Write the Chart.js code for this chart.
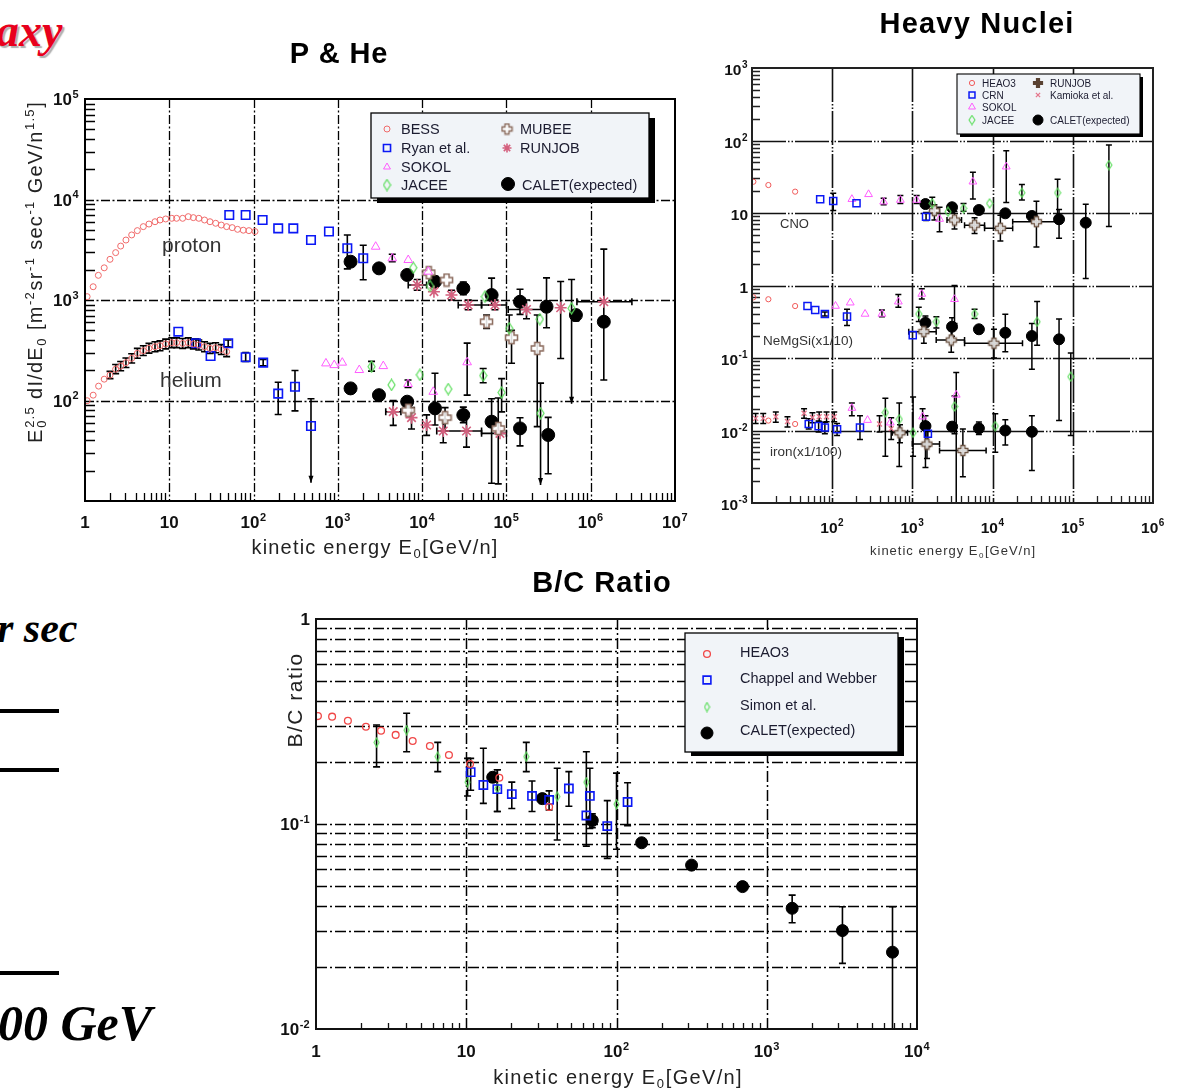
<!DOCTYPE html>
<html>
<head>
<meta charset="utf-8">
<script src="https://cdn.jsdelivr.net/npm/chart.js@4.4.1/dist/chart.umd.min.js"></script>
<style>
  html, body { margin:0; padding:0; background:#fff; width:1178px; height:1090px; overflow:hidden; position:relative; }
  canvas { position:absolute; }
  #c1 { left:0; top:0; }
  #c2 { left:722px; top:0; }
  #c3 { left:260px; top:560px; }
  .slide { position:absolute; font-family:"Liberation Serif","Times New Roman",serif; font-weight:bold; font-style:italic; white-space:nowrap; line-height:1; color:#000; }
  .rule { position:absolute; left:0; width:59px; height:4px; background:#000; }
</style>
</head>
<body>
<div class="slide" style="left:-4px; top:8px; font-size:46px; color:#e8001c; text-shadow:2px 2px 1px rgba(110,110,110,0.55);">axy</div>
<div class="slide" style="left:-3px; top:607px; font-size:42px;">r sec</div>
<div class="rule" style="top:709px;"></div>
<div class="rule" style="top:768px;"></div>
<div class="rule" style="top:971px;"></div>
<div class="slide" style="left:-2px; top:998px; font-size:50px;">00 GeV</div>

<canvas id="c1" width="712" height="572"></canvas>
<canvas id="c2" width="456" height="572"></canvas>
<canvas id="c3" width="680" height="530"></canvas>

<script>
// ---------------- P & He spectra (E0^2.5 dI/dE0) ----------------
const phXTicks = [1, 10, 100, 1e3, 1e4, 1e5, 1e6, 1e7];
const phXLabels = ['1', '10', '10^2', '10^3', '10^4', '10^5', '10^6', '10^7'];
const phYTicks = [100, 1e3, 1e4, 1e5];
const phYLabels = ['10^2', '10^3', '10^4', '10^5'];

const phBessPE = [1.06,1.25,1.44,1.69,1.98,2.31,2.65,3.06,3.58,4.18,4.92,5.74,6.77,7.76,9.06,10.7,12.2,14.4,16.8,19.3,22.4,26.2,30.4,35.5,41.4,47.9,55.8,64.6,75.5,88,104];
const phBessPF = [1080,1355,1760,2090,2540,2960,3440,3950,4440,4900,5370,5700,6010,6250,6400,6500,6500,6500,6750,6600,6500,6250,6010,5800,5570,5370,5250,5050,4950,4900,4800];
const phBessHeE = [1.06,1.25,1.45,1.69,1.98,2.31,2.65,3.06,3.58,4.18,4.92,5.74,6.77,7.76,9.06,10.7,12.2,14.4,16.8,19.3,22.4,26.2,30.4,35.5,41.4,47.9];
const phBessHeF = [99.5,113,139,163,179,205,220,238,263,295,313,331,343,351,365,376,376,370,376,365,357,343,330,335,322,306];
const phBessHeErr = [null,null,null,null,[165,195],[185,228],[198,244],[213,265],[236,292],[263,330],[280,350],[296,370],[306,384],[313,392],[326,408],[336,420],[336,420],[330,414],[336,420],[326,408],[318,400],[306,384],[294,370],[299,375],[287,360],[273,342]];

const phRyanPE = [51.5,80.6,128,196,296,480,784,1295,2000];
const phRyanPF = [7010,7010,6250,5160,5160,3950,4800,3270,2600];
const phRyanPErr = [null,null,null,null,null,null,null,[2040,4440],[1590,3500]];
const phRyanHeE = [12.8,20.7,30.9,50,80.6,130,196,310,480];
const phRyanHeF = [484,371,277,371,269,238,117,137,55.7];
const phRyanHeErr = [null,[335,410],null,[340,400],[245,300],[222,256],[72.5,152],[78.8,199],[15.2,104,null,null,1]];

const phSokolPE = [2810,4420,6840,11800];
const phSokolPF = [3390,2600,2500,1915];
const phSokolPErr = [null,[2400,2850],null,null];
const phSokolHeE = [722,906,1128,1796,3460,6800,13550,34200];
const phSokolHeF = [234,225,238,201,220,146,122,240];
const phSokolHeErr = [null,null,null,null,null,[135,160],null,[113,372]];

const phJaceePE = [7850,12400,55600,108000,249000,593000];
const phJaceePF = [2095,1380,1080,523,645,826];
const phJaceePErr = [null,null,null,[490,708],null,[93,1600,null,null,1]];
const phJaceeHeE = [2510,4330,9400,20400,53000,87700,254000];
const phJaceeHeF = [217,143,180,130,177,120,74.6];
const phJaceeHeErr = [[196,245],null,null,null,[150,208],[77,165],[14.4,149,null,null,1]];

const phMubeePE = [12000,19500,58100,115000,232000];
const phMubeePF = [1870,1580,608,422,330];
const phMubeePErr = [null,null,[520,710],[235,500],[55,710]];
const phMubeeHeE = [6840,18700,80000];
const phMubeeHeF = [80,67.5,52.8];
const phMubeeHeErr = [null,[50,85],[14.8,106]];

const phRunjobPE = [8750,13800,22300,35200,73100,173000,440000,1430000];
const phRunjobPF = [1410,1210,1120,891,891,805,837,961];
const phRunjobPErr = [[1250,1600,6840,11300],null,[1000,1250],[800,1000,26800,50700],[800,1000,50700,100000],[650,1000,105000,299000],[262,1530],[null,null,686000,3080000]];
const phRunjobHeE = [4540,7480,11300,17800,33600,83800];
const phRunjobHeF = [77.4,67.5,57,49.7,49.7,47.1];
const phRunjobHeErr = [[56.5,100,3700,5600],[52,85],[45,72],[38,65],[34.4,74,14900,50700],[null,null,50700,100000]];

const phCaletPE = [1415,3075,6650,14200,30800,66700,145000,299000,667000,1430000];
const phCaletPF = [2405,2065,1775,1520,1305,1120,961,857,708,608];
const phCaletPErr = [[2200,2630],[1900,2250],[1620,1950],[1350,1720],[1130,1510],[890,1650],[720,1280],[530,1660],[620,790],[160,3210]];
const phCaletHeE = [1415,3075,6650,14200,30800,66700,145000,313000];
const phCaletHeF = [132,113,97.3,83.5,71.7,61.5,52.8,45.4];
const phCaletHeErr = [null,null,[90,105],[57,187],[60,86],[15,104],[35.4,67.4],[18.7,68]];

// ---------------- Heavy nuclei (CNO, NeMgSi x1/10, iron x1/100) ----------------
const hnXTicks = [100, 1e3, 1e4, 1e5, 1e6];
const hnXLabels = ['10^2', '10^3', '10^4', '10^5', '10^6'];
const hnYTicks = [1e-3, 1e-2, 0.1, 1, 10, 100, 1000];
const hnYLabels = ['10^-3', '10^-2', '10^-1', '1', '10', '10^2', '10^3'];

const hnHeao3CnoE = [10.4,16,34.5],  hnHeao3CnoF = [27,24.3,19.7];
const hnHeao3NeE  = [10.4,16,34.5],  hnHeao3NeF  = [0.687,0.646,0.521];
const hnHeao3FeE  = [16,34.5],       hnHeao3FeF  = [0.0137,0.0123];

const hnKamiokaFeE = [11.1,13.8,19.8,27.7,44.6,56.7,68.8,85,106,389,544];
const hnKamiokaFeF = [0.0147,0.0147,0.0155,0.0133,0.0173,0.0151,0.0155,0.0155,0.0155,0.0123,0.0106];
const hnKamiokaFeErr = [[0.0125,0.0172],[0.0125,0.0172],[0.013,0.018],[0.0112,0.0155],[0.0148,0.02],[0.0128,0.0176],[0.0132,0.018],[0.0132,0.018],[0.0132,0.018],[0.0095,0.016],[0.0075,0.015]];

const hnCrnCnoE = [70.8,103,201,1480], hnCrnCnoF = [15.5,14.6,13.6,8.9];
const hnCrnCnoErr = [null,[10.8,18.7],null,[7.9,10.2]];
const hnCrnNeE = [49.2,61.4,81,153,1010], hnCrnNeF = [0.521,0.459,0.405,0.372,0.207];
const hnCrnNeErr = [null,null,[0.38,0.43],[0.28,0.47],null];
const hnCrnFeE = [51,67.7,81,115,222,1560], hnCrnFeF = [0.0123,0.0115,0.011,0.0104,0.011,0.009];
const hnCrnFeErr = [[0.0105,0.0145],[0.0095,0.0135],[0.009,0.013],[0.0085,0.0125],[0.0075,0.016],[0.006,0.012]];

const hnSokolCnoE = [176,284,438,708,1130,2180,5680,14800], hnSokolCnoF = [15.5,18.1,14.3,15.1,15.1,8.26,27,43.5];
const hnSokolCnoErr = [null,null,[13,16],[13.5,17.5],[13.5,17.5],[5.5,12],[15.6,36.6],[14,72.5]];
const hnSokolNeE = [110,168,257,417,668,1310,3350], hnSokolNeF = [0.521,0.579,0.405,0.405,0.598,0.764,0.646];
const hnSokolNeErr = [null,null,null,[0.37,0.46],[0.5,0.75],[0.65,0.9],[0.3,1.0]];
const hnSokolFeE = [176,276,530,1340,3520], hnSokolFeF = [0.0204,0.0139,0.0128,0.0155,0.031];
const hnSokolFeErr = [[0.016,0.024],null,null,[0.011,0.02],[0.001,0.063]];

const hnJaceeCnoE = [1770,2780,4340,9170,23200,64600,282000], hnJaceeCnoF = [13.6,10.4,11.6,13.6,19,19,45.9];
const hnJaceeCnoErr = [[11,16.5],null,[10.6,13.5],null,[15.1,24.8],[8.2,29.3],[6.5,86.6]];
const hnJaceeNeE = [1200,1990,5960,35900,94400], hnJaceeNeF = [0.405,0.316,0.405,0.316,0.0552];
const hnJaceeNeErr = [[0.32,0.5],[0.26,0.37],[0.35,0.47],[0.15,0.6],[0.0085,0.117]];
const hnJaceeFeE = [460,686,1020,3350,10800], hnJaceeFeF = [0.0177,0.0143,0.0093,0.0214,0.0115];
const hnJaceeFeErr = [[0.0044,0.0278],[0.0032,0.024],[0.0044,0.029],[0.009,0.03],[0.005,0.017]];

const hnRunjobCnoE = [1880,3350,5960,12500,35200], hnRunjobCnoF = [10.8,8,6.8,6.15,7.6];
const hnRunjobCnoErr = [[8,13],[6,10.5,2700,4100],[5.2,8.6,4470,7940],[4.1,9.3,7940,17800],[3.4,14.5,17800,64900]];
const hnRunjobNeE = [1390,3050,10400], hnRunjobNeF = [0.231,0.177,0.16];
const hnRunjobNeErr = [[0.16,0.33,900,1980],[0.12,0.24,1980,4470],[0.1,0.25,4470,23600]];
const hnRunjobFeE = [700,1520,4260], hnRunjobFeF = [0.0093,0.0065,0.0053];
const hnRunjobFeErr = [[0.0068,0.012,560,870],[0.0041,0.01,1000,2180],[0.0023,0.0105,2180,8300]];

const hnCaletCnoE = [1455,3120,6750,14400,30900,67400,145000], hnCaletCnoF = [13.3,12,11,9.9,9.1,8.2,7.35];
const hnCaletCnoErr = [null,null,null,null,[8.3,10.2],[4.5,11.2],[1.25,13.2]];
const hnCaletNeE = [1455,3120,6750,14400,30900,67400], hnCaletNeF = [0.307,0.27,0.249,0.223,0.201,0.181];
const hnCaletNeErr = [[0.22,0.38],[0.2,0.36],null,[0.122,0.4],[0.07,0.3],[0.0137,0.345]];
const hnCaletFeE = [1455,3130,6750,14400,30900], hnCaletFeF = [0.0115,0.0113,0.0107,0.01,0.0096];
const hnCaletFeErr = [[0.0031,0.016],[0.0098,0.013],[0.0088,0.0131],[0.0063,0.0141],[0.0028,0.016]];

// ---------------- B/C ratio ----------------
const bcXTicks = [1, 10, 100, 1e3, 1e4];
const bcXLabels = ['1', '10', '10^2', '10^3', '10^4'];
const bcYTicks = [0.01, 0.1, 1];
const bcYLabels = ['10^-2', '10^-1', '1'];

const bcHeao3E = [1.03,1.28,1.63,2.15,2.71,3.39,4.4,5.73,7.67,10.6,16.6,35.6];
const bcHeao3R = [0.336,0.334,0.319,0.298,0.285,0.272,0.254,0.24,0.217,0.196,0.168,0.121];
const bcChappelE = [10.7,13,16.1,20.1,27.4,35.6,48.2,63,66.5,86.8,118.5];
const bcChappelR = [0.179,0.155,0.148,0.14,0.137,0.131,0.149,0.11,0.137,0.0977,0.128];
const bcChappelErr = [[0.146,0.209],[0.126,0.234],[0.115,0.184],[0.119,0.16],[0.115,0.162],[0.117,0.145],[0.122,0.18],null,[0.095,0.187],[0.068,0.13],[0.098,0.159]];
const bcSimonE = [2.53,4.01,6.46,10.2,16.1,25.1,40.3,63,100];
const bcSimonR = [0.25,0.287,0.213,0.16,0.149,0.213,0.136,0.16,0.125];
const bcSimonErr = [[0.19,0.304],[0.225,0.347],[0.18,0.25],[0.137,0.209],[0.115,0.184],[0.18,0.25],[0.0835,0.187],[0.078,0.225],[0.0753,0.177]];
const bcCaletE = [15,32.1,69,147,316,690,1476,3190,6870];
const bcCaletR = [0.169,0.133,0.104,0.081,0.063,0.0495,0.0388,0.0302,0.0237];
const bcCaletErr = [[0.16,0.178],[0.126,0.14],[0.096,0.112],null,null,null,[0.033,0.045],[0.0209,0.0395],[0.01,0.0395]];

// ---------------- helpers ----------------
const FONT = '"Liberation Sans", Arial, Helvetica, sans-serif';

function pts(E, F) { return E.map((e, i) => ({ x: e, y: F[i] })); }

// minor tick values 2..9 x 10^k for k in [k0, k1)
function minors(k0, k1) {
  const out = [];
  for (let k = k0; k < k1; k++) for (let m = 2; m <= 9; m++) out.push(m * Math.pow(10, k));
  return out;
}

function parseTick(s) {
  const i = s.indexOf('^');
  return i < 0 ? [s] : [s.slice(0, i), { sup: s.slice(i + 1) }];
}

function richWidth(ctx, segs, size, weight) {
  let w = 0;
  for (const s of segs) {
    if (typeof s === 'string') { ctx.font = `${weight} ${size}px ${FONT}`; w += ctx.measureText(s).width; }
    else {
      ctx.font = `${weight} ${Math.round(size * 0.64)}px ${FONT}`;
      const a = s.sup ? ctx.measureText(s.sup).width : 0, b = s.sub ? ctx.measureText(s.sub).width : 0;
      w += Math.max(a, b) + 1;
    }
  }
  return w;
}

function richDraw(ctx, segs, x, y, size, o) {
  const weight = o.weight || 'normal';
  if ('letterSpacing' in ctx) ctx.letterSpacing = (o.ls || 0) + 'px';
  const w = richWidth(ctx, segs, size, weight);
  let cx = o.align === 'center' ? x - w / 2 : o.align === 'right' ? x - w : x;
  ctx.fillStyle = o.color || '#000';
  ctx.textAlign = 'left';
  ctx.textBaseline = 'alphabetic';
  for (const s of segs) {
    if (typeof s === 'string') {
      ctx.font = `${weight} ${size}px ${FONT}`;
      ctx.fillText(s, cx, y);
      cx += ctx.measureText(s).width;
    } else {
      ctx.font = `${weight} ${Math.round(size * 0.64)}px ${FONT}`;
      let a = 0, b = 0;
      if (s.sup) { ctx.fillText(s.sup, cx + 0.5, y - size * 0.42); a = ctx.measureText(s.sup).width; }
      if (s.sub) { ctx.fillText(s.sub, cx + 0.5, y + size * 0.22); b = ctx.measureText(s.sub).width; }
      cx += Math.max(a, b) + 1;
    }
  }
  if ('letterSpacing' in ctx) ctx.letterSpacing = '0px';
}

// narrow hollow diamond marker
function diamond(color, w, h, lw) {
  const c = document.createElement('canvas');
  c.width = w + 2; c.height = h + 2;
  const g = c.getContext('2d');
  g.strokeStyle = color; g.lineWidth = lw;
  g.beginPath();
  g.moveTo(c.width / 2, 1); g.lineTo(c.width - 1, c.height / 2);
  g.lineTo(c.width / 2, c.height - 1); g.lineTo(1, c.height / 2);
  g.closePath(); g.stroke();
  return c;
}

// outlined plus marker
function openCross(color, s, a, lw, fill) {
  const c = document.createElement('canvas');
  c.width = c.height = s + 3;
  const g = c.getContext('2d');
  const m = c.width / 2, h = s / 2;
  g.strokeStyle = color; g.lineWidth = lw; g.fillStyle = fill;
  g.beginPath();
  g.moveTo(m - a, m - h); g.lineTo(m + a, m - h); g.lineTo(m + a, m - a); g.lineTo(m + h, m - a);
  g.lineTo(m + h, m + a); g.lineTo(m + a, m + a); g.lineTo(m + a, m + h); g.lineTo(m - a, m + h);
  g.lineTo(m - a, m + a); g.lineTo(m - h, m + a); g.lineTo(m - h, m - a); g.lineTo(m - a, m - a);
  g.closePath(); g.fill(); g.stroke();
  return c;
}

function fallbackPoint(ctx, o, x, y) {
  const st = o.pointStyle, r = o.radius;
  if (st instanceof HTMLCanvasElement) { ctx.drawImage(st, x - st.width / 2, y - st.height / 2); return; }
  ctx.beginPath();
  if (st === 'rect') { const s = r * Math.SQRT1_2; ctx.rect(x - s, y - s, 2 * s, 2 * s); }
  else if (st === 'triangle') { ctx.moveTo(x, y - r); ctx.lineTo(x + r * 0.866, y + r / 2); ctx.lineTo(x - r * 0.866, y + r / 2); ctx.closePath(); }
  else if (st === 'star' || st === 'crossRot') {
    const d = r * Math.SQRT1_2;
    ctx.moveTo(x - d, y - d); ctx.lineTo(x + d, y + d); ctx.moveTo(x - d, y + d); ctx.lineTo(x + d, y - d);
    if (st === 'star') { ctx.moveTo(x - r, y); ctx.lineTo(x + r, y); ctx.moveTo(x, y - r); ctx.lineTo(x, y + r); }
  }
  else { ctx.arc(x, y, r, 0, Math.PI * 2); }
  if (st !== 'star' && st !== 'crossRot') ctx.fill();
  ctx.stroke();
}

function marker(ctx, o, x, y) {
  if (window.Chart && Chart.helpers && Chart.helpers.drawPoint) Chart.helpers.drawPoint(ctx, o, x, y);
  else fallbackPoint(ctx, o, x, y);
}

function drawErrBars(chart) {
  const { ctx, chartArea: a, scales: { x, y } } = chart;
  ctx.save();
  ctx.beginPath(); ctx.rect(a.left, a.top - 4, a.right - a.left, a.bottom - a.top + 4); ctx.clip();
  ctx.strokeStyle = '#000'; ctx.fillStyle = '#000'; ctx.setLineDash([]);
  chart.data.datasets.forEach(ds => {
    if (!ds.errs) return;
    const cap = ds.errCap || 3.5;
    ctx.lineWidth = ds.errWidth || 1.6;
    ds.errs.forEach((e, i) => {
      if (!e) return;
      const p = ds.data[i];
      const px = x.getPixelForValue(p.x), py = y.getPixelForValue(p.y);
      const [yl, yh, xl, xh, arrow] = e;
      ctx.beginPath();
      if (yl != null) {
        const lo = y.getPixelForValue(yl), hi = y.getPixelForValue(yh);
        ctx.moveTo(px, lo); ctx.lineTo(px, hi);
        ctx.moveTo(px - cap, hi); ctx.lineTo(px + cap, hi);
        if (!arrow) { ctx.moveTo(px - cap, lo); ctx.lineTo(px + cap, lo); }
      }
      if (xl != null) {
        const l = x.getPixelForValue(xl), r = x.getPixelForValue(xh);
        ctx.moveTo(l, py); ctx.lineTo(r, py);
        ctx.moveTo(l, py - cap); ctx.lineTo(l, py + cap);
        ctx.moveTo(r, py - cap); ctx.lineTo(r, py + cap);
      }
      ctx.stroke();
      if (arrow && yl != null) {
        const lo = y.getPixelForValue(yl);
        ctx.beginPath(); ctx.moveTo(px, lo); ctx.lineTo(px - 2.5, lo - 7); ctx.lineTo(px + 2.5, lo - 7); ctx.closePath(); ctx.fill();
      }
    });
  });
  ctx.restore();
}

function drawLegend(chart, L) {
  const ctx = chart.ctx;
  const [x0, y0, x1, y1] = L.box;
  ctx.save();
  ctx.fillStyle = '#000';
  ctx.fillRect(x0 + L.shadow[0], y0 + L.shadow[1], x1 - x0, y1 - y0);
  ctx.fillStyle = L.fill;
  ctx.fillRect(x0, y0, x1 - x0, y1 - y0);
  ctx.lineWidth = L.lw; ctx.strokeStyle = '#000';
  ctx.strokeRect(x0, y0, x1 - x0, y1 - y0);
  L.items.forEach(it => {
    const ds = chart.data.datasets[it.ds];
    ctx.save();
    ctx.strokeStyle = ds.pointBorderColor; ctx.fillStyle = ds.pointBackgroundColor; ctx.lineWidth = ds.pointBorderWidth;
    marker(ctx, { pointStyle: it.style || ds.pointStyle, radius: it.r || ds.pointRadius, borderWidth: ds.pointBorderWidth, rotation: 0 }, it.mx, it.my);
    ctx.restore();
    ctx.font = `${L.size}px ${FONT}`; ctx.fillStyle = '#1c1c30'; ctx.textAlign = 'left'; ctx.textBaseline = 'alphabetic';
    ctx.fillText(ds.label, it.tx, it.ty);
  });
  ctx.restore();
}

// frame, grid, inner minor ticks, tick labels, captions and the boxed legend
function deco(cfg) {
  return {
    id: 'deco',
    beforeDatasetsDraw(chart) {
      const { ctx, chartArea: a, scales: { x, y } } = chart;
      ctx.save();
      ctx.strokeStyle = cfg.gridColor; ctx.lineWidth = cfg.gridWidth; ctx.setLineDash(cfg.dash);
      cfg.gridX.forEach(v => { const p = Math.round(x.getPixelForValue(v)) + 0.5; ctx.beginPath(); ctx.moveTo(p, a.top); ctx.lineTo(p, a.bottom); ctx.stroke(); });
      cfg.gridY.forEach(v => { const p = Math.round(y.getPixelForValue(v)) + 0.5; ctx.beginPath(); ctx.moveTo(a.left, p); ctx.lineTo(a.right, p); ctx.stroke(); });
      ctx.setLineDash([]); ctx.lineWidth = 1.3; ctx.strokeStyle = cfg.frameColor;
      ctx.beginPath();
      cfg.minorX.forEach(v => { const p = Math.round(x.getPixelForValue(v)) + 0.5; if (p > a.left + 1 && p < a.right - 1) { ctx.moveTo(p, a.bottom); ctx.lineTo(p, a.bottom - cfg.tickLenX); } });
      cfg.minorY.forEach(v => { const p = Math.round(y.getPixelForValue(v)) + 0.5; if (p > a.top + 1 && p < a.bottom - 1) { ctx.moveTo(a.left, p); ctx.lineTo(a.left + cfg.tickLenY, p); } });
      ctx.stroke();
      ctx.restore();
      drawErrBars(chart);
    },
    afterDatasetsDraw(chart) {
      const { ctx, chartArea: a, scales: { x, y } } = chart;
      ctx.save();
      ctx.lineWidth = cfg.frameWidth; ctx.strokeStyle = cfg.frameColor;
      ctx.strokeRect(a.left, a.top, a.right - a.left, a.bottom - a.top);
      cfg.xTicks.forEach((v, i) => richDraw(ctx, parseTick(cfg.xLabels[i]), x.getPixelForValue(v), cfg.xLabelY, cfg.tickSize, { weight: 'bold', align: 'center', color: '#111' }));
      cfg.yTicks.forEach((v, i) => richDraw(ctx, parseTick(cfg.yLabels[i]), cfg.yLabelX, y.getPixelForValue(v) + cfg.yLabelDy, cfg.tickSize, { weight: 'bold', align: 'right', color: '#111' }));
      cfg.texts.forEach(t => {
        ctx.save(); ctx.translate(t.x, t.y); if (t.rot) ctx.rotate(t.rot);
        richDraw(ctx, t.segs, 0, 0, t.size, { weight: t.weight, align: t.align, color: t.color, ls: t.ls });
        ctx.restore();
      });
      if (cfg.legend) drawLegend(chart, cfg.legend);
      ctx.restore();
    }
  };
}

function series(label, data, errs, style) {
  return Object.assign({ label, data, errs, showLine: false, borderColor: style.pointBorderColor, backgroundColor: style.pointBackgroundColor }, style);
}

function logScales(xmin, xmax, ymin, ymax) {
  return {
    x: { type: 'logarithmic', min: xmin, max: xmax, display: false },
    y: { type: 'logarithmic', min: ymin, max: ymax, display: false }
  };
}

function baseOptions(pad, scales) {
  return {
    responsive: false, animation: false, devicePixelRatio: 1, events: [],
    layout: { padding: pad },
    plugins: { legend: { display: false }, tooltip: { enabled: false } },
    scales
  };
}

const HOLLOW = 'rgba(255,255,255,0)';

// ---------------- chart 1 : P & He ----------------
const c1Styles = {
  bess:   { pointStyle: 'circle', pointRadius: 3, pointBorderWidth: 1, pointBorderColor: '#f06a6a', pointBackgroundColor: HOLLOW },
  ryan:   { pointStyle: 'rect', pointRadius: 6, pointBorderWidth: 1.6, pointBorderColor: '#0b18f5', pointBackgroundColor: HOLLOW },
  sokol:  { pointStyle: 'triangle', pointRadius: 5, pointBorderWidth: 1, pointBorderColor: '#ff5cff', pointBackgroundColor: HOLLOW },
  jacee:  { pointStyle: diamond('#5cde5c', 7, 11, 1.2), pointRadius: 5, pointBorderWidth: 1, pointBorderColor: '#5cde5c', pointBackgroundColor: HOLLOW },
  mubee:  { pointStyle: openCross('#8a6a5c', 12, 2.5, 1.5, 'rgba(255,255,255,0.85)'), pointRadius: 6, pointBorderWidth: 1.5, pointBorderColor: '#8a6a5c', pointBackgroundColor: HOLLOW },
  runjob: { pointStyle: 'star', pointRadius: 6, pointBorderWidth: 1.6, pointBorderColor: '#d4607e', pointBackgroundColor: HOLLOW },
  calet:  { pointStyle: 'circle', pointRadius: 6.5, pointBorderWidth: 1, pointBorderColor: '#000', pointBackgroundColor: '#000' }
};
const mubeeLegendMark = openCross('#8a6a5c', 10, 2, 1.4, 'rgba(255,255,255,0.85)');

new Chart(document.getElementById('c1'), {
  type: 'scatter',
  data: {
    datasets: [
      series('BESS', [...pts(phBessPE, phBessPF), ...pts(phBessHeE, phBessHeF)], [...phBessPE.map(() => null), ...phBessHeErr], c1Styles.bess),
      series('Ryan et al.', [...pts(phRyanPE, phRyanPF), ...pts(phRyanHeE, phRyanHeF)], [...phRyanPErr, ...phRyanHeErr], c1Styles.ryan),
      series('SOKOL', [...pts(phSokolPE, phSokolPF), ...pts(phSokolHeE, phSokolHeF)], [...phSokolPErr, ...phSokolHeErr], c1Styles.sokol),
      series('JACEE', [...pts(phJaceePE, phJaceePF), ...pts(phJaceeHeE, phJaceeHeF)], [...phJaceePErr, ...phJaceeHeErr], c1Styles.jacee),
      series('MUBEE', [...pts(phMubeePE, phMubeePF), ...pts(phMubeeHeE, phMubeeHeF)], [...phMubeePErr, ...phMubeeHeErr], c1Styles.mubee),
      series('RUNJOB', [...pts(phRunjobPE, phRunjobPF), ...pts(phRunjobHeE, phRunjobHeF)], [...phRunjobPErr, ...phRunjobHeErr], c1Styles.runjob),
      series('CALET(expected)', [...pts(phCaletPE, phCaletPF), ...pts(phCaletHeE, phCaletHeF)], [...phCaletPErr, ...phCaletHeErr], c1Styles.calet)
    ]
  },
  options: baseOptions({ left: 85, top: 99, right: 37, bottom: 71 }, logScales(1, 1e7, 10, 1e5)),
  plugins: [deco({
    gridColor: '#000', gridWidth: 1.3, dash: [9, 2.5, 2, 2.5],
    gridX: [10, 100, 1e3, 1e4, 1e5, 1e6], gridY: [100, 1e3, 1e4],
    minorX: minors(0, 7), minorY: minors(1, 5), tickLenX: 8, tickLenY: 10,
    frameColor: '#000', frameWidth: 2,
    xTicks: phXTicks, xLabels: phXLabels, xLabelY: 528,
    yTicks: phYTicks, yLabels: phYLabels, yLabelX: 79, yLabelDy: 6, tickSize: 17,
    texts: [
      { segs: ['P & He'], x: 339, y: 63, size: 29, weight: 'bold', align: 'center', color: '#000', ls: 0.8 },
      { segs: ['kinetic energy E', { sub: '0' }, '[GeV/n]'], x: 375, y: 554, size: 20, align: 'center', color: '#222', ls: 1.2 },
      { segs: ['E', { sub: '0', sup: '2.5' }, ' dI/dE', { sub: '0' }, ' [m', { sup: '-2' }, 'sr', { sup: '-1' }, ' sec', { sup: '-1' }, ' GeV/n', { sup: '1.5' }, ']'], x: 42, y: 272, rot: -Math.PI / 2, size: 20, align: 'center', color: '#222', ls: 1.2 },
      { segs: ['proton'], x: 162, y: 252, size: 21, align: 'left', color: '#333' },
      { segs: ['helium'], x: 160, y: 387, size: 21, align: 'left', color: '#333' }
    ],
    legend: {
      box: [371, 113, 649, 198], shadow: [6, 5], fill: '#f1f4f8', lw: 1.3, size: 14.5,
      items: [
        { ds: 0, mx: 387, my: 129, tx: 401, ty: 134 },
        { ds: 1, mx: 387, my: 148, tx: 401, ty: 153, r: 5 },
        { ds: 2, mx: 387, my: 167, tx: 401, ty: 172, r: 4 },
        { ds: 3, mx: 387, my: 185, tx: 401, ty: 190 },
        { ds: 4, mx: 507, my: 129, tx: 520, ty: 134, style: mubeeLegendMark },
        { ds: 5, mx: 507, my: 148, tx: 520, ty: 153, r: 4.5 },
        { ds: 6, mx: 508, my: 184, tx: 522, ty: 190 }
      ]
    }
  })]
});

// ---------------- chart 2 : heavy nuclei ----------------
const c2Styles = {
  heao3:   { pointStyle: 'circle', pointRadius: 2.6, pointBorderWidth: 1, pointBorderColor: '#f05a5a', pointBackgroundColor: HOLLOW },
  kamioka: { pointStyle: 'crossRot', pointRadius: 3.5, pointBorderWidth: 1.3, pointBorderColor: '#e5768c', pointBackgroundColor: HOLLOW },
  crn:     { pointStyle: 'rect', pointRadius: 5, pointBorderWidth: 1.5, pointBorderColor: '#0b18f5', pointBackgroundColor: HOLLOW },
  sokol:   { pointStyle: 'triangle', pointRadius: 4.5, pointBorderWidth: 1, pointBorderColor: '#ff5cff', pointBackgroundColor: HOLLOW },
  jacee:   { pointStyle: diamond('#5cde5c', 6, 9, 1.1), pointRadius: 4, pointBorderWidth: 1, pointBorderColor: '#5cde5c', pointBackgroundColor: HOLLOW },
  runjob:  { pointStyle: openCross('#6e5646', 10, 2, 1.4, 'rgba(255,255,255,0.85)'), pointRadius: 5, pointBorderWidth: 1.4, pointBorderColor: '#6e5646', pointBackgroundColor: HOLLOW },
  calet:   { pointStyle: 'circle', pointRadius: 5.5, pointBorderWidth: 1, pointBorderColor: '#000', pointBackgroundColor: '#000' }
};
const runjobLegendMark = openCross('#5a4232', 9, 1.5, 1.2, '#5a4232');

new Chart(document.getElementById('c2'), {
  type: 'scatter',
  data: {
    datasets: [
      series('HEAO3', [...pts(hnHeao3CnoE, hnHeao3CnoF), ...pts(hnHeao3NeE, hnHeao3NeF), ...pts(hnHeao3FeE, hnHeao3FeF)], null, c2Styles.heao3),
      series('Kamioka et al.', pts(hnKamiokaFeE, hnKamiokaFeF), hnKamiokaFeErr, c2Styles.kamioka),
      series('CRN', [...pts(hnCrnCnoE, hnCrnCnoF), ...pts(hnCrnNeE, hnCrnNeF), ...pts(hnCrnFeE, hnCrnFeF)], [...hnCrnCnoErr, ...hnCrnNeErr, ...hnCrnFeErr], c2Styles.crn),
      series('SOKOL', [...pts(hnSokolCnoE, hnSokolCnoF), ...pts(hnSokolNeE, hnSokolNeF), ...pts(hnSokolFeE, hnSokolFeF)], [...hnSokolCnoErr, ...hnSokolNeErr, ...hnSokolFeErr], c2Styles.sokol),
      series('JACEE', [...pts(hnJaceeCnoE, hnJaceeCnoF), ...pts(hnJaceeNeE, hnJaceeNeF), ...pts(hnJaceeFeE, hnJaceeFeF)], [...hnJaceeCnoErr, ...hnJaceeNeErr, ...hnJaceeFeErr], c2Styles.jacee),
      series('RUNJOB', [...pts(hnRunjobCnoE, hnRunjobCnoF), ...pts(hnRunjobNeE, hnRunjobNeF), ...pts(hnRunjobFeE, hnRunjobFeF)], [...hnRunjobCnoErr, ...hnRunjobNeErr, ...hnRunjobFeErr], c2Styles.runjob),
      series('CALET(expected)', [...pts(hnCaletCnoE, hnCaletCnoF), ...pts(hnCaletNeE, hnCaletNeF), ...pts(hnCaletFeE, hnCaletFeF)], [...hnCaletCnoErr, ...hnCaletNeErr, ...hnCaletFeErr], c2Styles.calet)
    ].map(d => Object.assign(d, { errCap: 3, errWidth: 1.5 }))
  },
  options: baseOptions({ left: 30, top: 68, right: 25, bottom: 69 }, logScales(10, 1e6, 1e-3, 1e3)),
  plugins: [deco({
    gridColor: '#111', gridWidth: 1.6, dash: [34, 2, 1.5, 2, 1.5, 2],
    gridX: [100, 1e3, 1e4, 1e5], gridY: [1e-2, 0.1, 1, 10, 100],
    minorX: minors(1, 6), minorY: minors(-3, 3), tickLenX: 7, tickLenY: 8,
    frameColor: '#222', frameWidth: 2,
    xTicks: hnXTicks, xLabels: hnXLabels, xLabelY: 533,
    yTicks: hnYTicks, yLabels: hnYLabels, yLabelX: 26, yLabelDy: 7, tickSize: 15.5,
    texts: [
      { segs: ['Heavy Nuclei'], x: 255, y: 33, size: 29, weight: 'bold', align: 'center', color: '#000', ls: 1.2 },
      { segs: ['kinetic energy E', { sub: '0' }, '[GeV/n]'], x: 231, y: 555, size: 13, align: 'center', color: '#333', ls: 1 },
      { segs: ['CNO'], x: 58, y: 228, size: 13, align: 'left', color: '#333' },
      { segs: ['NeMgSi(x1/10)'], x: 41, y: 345, size: 13.5, align: 'left', color: '#333' },
      { segs: ['iron(x1/100)'], x: 48, y: 456, size: 13.5, align: 'left', color: '#333' }
    ],
    legend: {
      box: [235, 74, 418, 134], shadow: [3, 3], fill: '#f1f4f8', lw: 1.1, size: 10,
      items: [
        { ds: 0, mx: 250, my: 83, tx: 260, ty: 87 },
        { ds: 2, mx: 250, my: 95, tx: 260, ty: 99, r: 4.2 },
        { ds: 3, mx: 250, my: 107, tx: 260, ty: 111, r: 4 },
        { ds: 4, mx: 250, my: 120, tx: 260, ty: 124 },
        { ds: 5, mx: 316, my: 83, tx: 328, ty: 87, style: runjobLegendMark },
        { ds: 1, mx: 316, my: 95, tx: 328, ty: 99, r: 3 },
        { ds: 6, mx: 316, my: 120, tx: 328, ty: 124, r: 5 }
      ]
    }
  })]
});

// ---------------- chart 3 : B/C ratio ----------------
const c3Styles = {
  heao3:   { pointStyle: 'circle', pointRadius: 3.4, pointBorderWidth: 1.3, pointBorderColor: '#f04848', pointBackgroundColor: HOLLOW },
  chappel: { pointStyle: 'rect', pointRadius: 5.8, pointBorderWidth: 1.6, pointBorderColor: '#0b18f5', pointBackgroundColor: HOLLOW },
  simon:   { pointStyle: diamond('#5cde5c', 5, 9, 1.1), pointRadius: 4, pointBorderWidth: 1, pointBorderColor: '#5cde5c', pointBackgroundColor: HOLLOW },
  calet:   { pointStyle: 'circle', pointRadius: 6, pointBorderWidth: 1, pointBorderColor: '#000', pointBackgroundColor: '#000' }
};

new Chart(document.getElementById('c3'), {
  type: 'scatter',
  data: {
    datasets: [
      series('HEAO3', pts(bcHeao3E, bcHeao3R), null, c3Styles.heao3),
      series('Chappel and Webber', pts(bcChappelE, bcChappelR), bcChappelErr, c3Styles.chappel),
      series('Simon et al.', pts(bcSimonE, bcSimonR), bcSimonErr, c3Styles.simon),
      series('CALET(expected)', pts(bcCaletE, bcCaletR), bcCaletErr, c3Styles.calet)
    ].map(d => Object.assign(d, { errCap: 3.5, errWidth: 1.6 }))
  },
  options: baseOptions({ left: 56, top: 59, right: 23, bottom: 61 }, logScales(1, 1e4, 0.01, 1)),
  plugins: [deco({
    gridColor: '#000', gridWidth: 1.5, dash: [11, 3, 2, 3],
    gridX: [10, 100, 1e3], gridY: [...minors(-2, 0), 0.1],
    minorX: minors(0, 4), minorY: [], tickLenX: 6, tickLenY: 5,
    frameColor: '#111', frameWidth: 2,
    xTicks: bcXTicks, xLabels: bcXLabels, xLabelY: 497,
    yTicks: bcYTicks, yLabels: bcYLabels, yLabelX: 50, yLabelDy: 6, tickSize: 17,
    texts: [
      { segs: ['B/C Ratio'], x: 342, y: 32, size: 29, weight: 'bold', align: 'center', color: '#000', ls: 1 },
      { segs: ['B/C ratio'], x: 42, y: 140, rot: -Math.PI / 2, size: 21, align: 'center', color: '#222', ls: 1.5 },
      { segs: ['kinetic energy E', { sub: '0' }, '[GeV/n]'], x: 358, y: 524, size: 20, align: 'center', color: '#222', ls: 1.3 }
    ],
    legend: {
      box: [425, 73, 638, 192], shadow: [6, 4], fill: '#f1f4f8', lw: 1.3, size: 14.5,
      items: [
        { ds: 0, mx: 447, my: 94, tx: 480, ty: 97 },
        { ds: 1, mx: 447, my: 120, tx: 480, ty: 123, r: 5.5 },
        { ds: 2, mx: 447, my: 147, tx: 480, ty: 150 },
        { ds: 3, mx: 447, my: 173, tx: 480, ty: 175 }
      ]
    }
  })]
});
</script>
</body>
</html>
